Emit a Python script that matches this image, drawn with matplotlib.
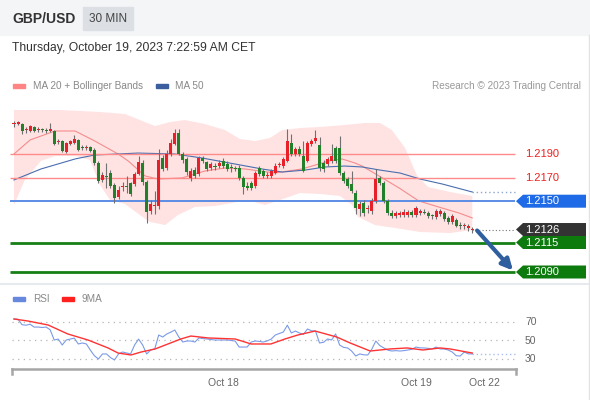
import matplotlib
matplotlib.use('Agg')
import matplotlib.pyplot as plt
from matplotlib.patches import Rectangle, Polygon
from matplotlib.lines import Line2D
import numpy as np

plt.rcParams['font.family'] = ['Liberation Sans', 'DejaVu Sans']

# --- data (30 min candles, GBP/USD) ---
open_ = [1.22154, 1.22154, 1.22154, 1.22103, 1.22095, 1.22129, 1.22103, 1.22112, 1.22103, 1.22095,
         1.22095, 1.22002, 1.22010, 1.21917, 1.21985, 1.21993, 1.22019, 1.21959, 1.21951, 1.21959,
         1.21934, 1.21824, 1.21680, 1.21714, 1.21739, 1.21637, 1.21536, 1.21620, 1.21629, 1.21654,
         1.21646, 1.21731, 1.21824, 1.21663, 1.21417, 1.21459, 1.21459, 1.21866, 1.21781, 1.21900,
         1.21985, 1.22078, 1.21900, 1.21858, 1.21697, 1.21764, 1.21731, 1.21866, 1.21832, 1.21781,
         1.21798, 1.21798, 1.21841, 1.21815, 1.21790, 1.21781, 1.21781, 1.21697, 1.21629, 1.21654,
         1.21629, 1.21781, 1.21756, 1.21714, 1.21714, 1.21739, 1.21807, 1.21798, 1.21841, 1.21993,
         1.21900, 1.21942, 1.21883, 1.21841, 1.21985, 1.22010, 1.21976, 1.21824, 1.21815, 1.21841,
         1.21951, 1.21951, 1.21739, 1.21688, 1.21646, 1.21569, 1.21434, 1.21485, 1.21434, 1.21417,
         1.21502, 1.21697, 1.21654, 1.21502, 1.21400, 1.21375, 1.21383, 1.21383, 1.21383, 1.21408,
         1.21383, 1.21400, 1.21408, 1.21400, 1.21375, 1.21366, 1.21391, 1.21400, 1.21358, 1.21324,
         1.21341, 1.21298, 1.21290, 1.21273, 1.21256]
high = [1.22180, 1.22180, 1.22163, 1.22129, 1.22146, 1.22137, 1.22129, 1.22120, 1.22120, 1.22163,
        1.22103, 1.22027, 1.22019, 1.22002, 1.22019, 1.22061, 1.22027, 1.21976, 1.21976, 1.21968,
        1.21951, 1.21841, 1.21747, 1.21824, 1.21764, 1.21654, 1.21629, 1.21663, 1.21714, 1.21663,
        1.21747, 1.21883, 1.21849, 1.21680, 1.21510, 1.21586, 1.21942, 1.21892, 1.21934, 1.22027,
        1.22112, 1.22112, 1.21917, 1.21875, 1.21781, 1.21790, 1.21883, 1.21883, 1.21841, 1.21832,
        1.21824, 1.21849, 1.21866, 1.21841, 1.21815, 1.21798, 1.21807, 1.21714, 1.21663, 1.21671,
        1.21756, 1.21798, 1.21773, 1.21747, 1.21773, 1.21824, 1.21832, 1.21875, 1.22112, 1.22069,
        1.21959, 1.21968, 1.22010, 1.22010, 1.22027, 1.22103, 1.22044, 1.21849, 1.21875, 1.21985,
        1.21968, 1.22053, 1.21756, 1.21705, 1.21756, 1.21595, 1.21502, 1.21510, 1.21468, 1.21527,
        1.21773, 1.21714, 1.21671, 1.21519, 1.21425, 1.21417, 1.21417, 1.21434, 1.21425, 1.21425,
        1.21459, 1.21434, 1.21434, 1.21417, 1.21391, 1.21434, 1.21434, 1.21417, 1.21375, 1.21391,
        1.21358, 1.21324, 1.21315, 1.21307, 1.21281]
low = [1.22129, 1.22146, 1.22069, 1.22078, 1.22086, 1.22086, 1.22086, 1.22086, 1.22078, 1.22086,
       1.21976, 1.21985, 1.21917, 1.21908, 1.21976, 1.21985, 1.21925, 1.21934, 1.21934, 1.21917,
       1.21807, 1.21654, 1.21663, 1.21612, 1.21612, 1.21485, 1.21519, 1.21586, 1.21569, 1.21544,
       1.21629, 1.21722, 1.21637, 1.21315, 1.21391, 1.21391, 1.21434, 1.21756, 1.21764, 1.21883,
       1.21976, 1.21892, 1.21824, 1.21722, 1.21671, 1.21697, 1.21714, 1.21824, 1.21756, 1.21764,
       1.21764, 1.21781, 1.21781, 1.21756, 1.21747, 1.21756, 1.21680, 1.21561, 1.21595, 1.21595,
       1.21612, 1.21714, 1.21697, 1.21697, 1.21697, 1.21731, 1.21790, 1.21781, 1.21832, 1.21883,
       1.21883, 1.21883, 1.21747, 1.21832, 1.21968, 1.21993, 1.21756, 1.21747, 1.21798, 1.21824,
       1.21824, 1.21722, 1.21654, 1.21612, 1.21569, 1.21391, 1.21375, 1.21375, 1.21400, 1.21391,
       1.21485, 1.21637, 1.21485, 1.21383, 1.21358, 1.21358, 1.21366, 1.21366, 1.21366, 1.21366,
       1.21366, 1.21383, 1.21391, 1.21358, 1.21349, 1.21349, 1.21375, 1.21332, 1.21307, 1.21307,
       1.21281, 1.21264, 1.21264, 1.21247, 1.21230]
close = [1.22163, 1.22167, 1.22095, 1.22112, 1.22137, 1.22095, 1.22112, 1.22103, 1.22095, 1.22112,
         1.21985, 1.22010, 1.21925, 1.21993, 1.22010, 1.22027, 1.21934, 1.21951, 1.21959, 1.21925,
         1.21824, 1.21671, 1.21722, 1.21705, 1.21629, 1.21527, 1.21595, 1.21629, 1.21620, 1.21561,
         1.21731, 1.21832, 1.21663, 1.21408, 1.21476, 1.21468, 1.21849, 1.21773, 1.21900, 1.21993,
         1.22078, 1.21900, 1.21849, 1.21747, 1.21756, 1.21714, 1.21866, 1.21841, 1.21773, 1.21815,
         1.21790, 1.21824, 1.21798, 1.21773, 1.21781, 1.21773, 1.21697, 1.21620, 1.21616, 1.21612,
         1.21739, 1.21731, 1.21714, 1.21722, 1.21756, 1.21798, 1.21815, 1.21858, 1.22010, 1.21900,
         1.21942, 1.21900, 1.21756, 1.21993, 1.22010, 1.22036, 1.21781, 1.21773, 1.21858, 1.21883,
         1.21841, 1.21739, 1.21671, 1.21629, 1.21586, 1.21442, 1.21476, 1.21400, 1.21442, 1.21502,
         1.21688, 1.21654, 1.21502, 1.21400, 1.21375, 1.21400, 1.21400, 1.21408, 1.21408, 1.21383,
         1.21442, 1.21417, 1.21404, 1.21375, 1.21371, 1.21417, 1.21417, 1.21349, 1.21324, 1.21375,
         1.21290, 1.21290, 1.21298, 1.21286, 1.21260]

# moving averages and bollinger bands (bar index, price)
ma20_x = [0, 4, 10.2, 15.2, 20.1, 25.9, 28.4, 32.6, 35.8, 41.8, 47.5, 52.5, 57.5, 64.9, 71.6,
          78.4, 81.6, 84.8, 86.6, 90.8, 95.8, 100.7, 106.5, 110.7, 114]
ma20_y = [1.21900, 1.22019, 1.22095, 1.22095, 1.22010, 1.21900, 1.21841, 1.21714, 1.21688, 1.21697,
          1.21756, 1.21781, 1.21773, 1.21739, 1.21773, 1.21841, 1.21858, 1.21824, 1.21798, 1.21714,
          1.21612, 1.21502, 1.21442, 1.21400, 1.21358]
ma50_x = [0, 6.7, 15.2, 20.1, 25.9, 30.8, 40, 46.8, 55, 61.7, 66.7, 72.4, 77.4, 82.3, 86.6,
          91, 96, 101, 106.5, 114]
ma50_y = [1.21680, 1.21773, 1.21858, 1.21892, 1.21900, 1.21908, 1.21900, 1.21866, 1.21815, 1.21773,
          1.21747, 1.21764, 1.21790, 1.21798, 1.21790, 1.21764, 1.21739, 1.21688, 1.21646, 1.21578]
bb_up_x = [0, 11.4, 21.4, 27.6, 31.3, 35.1, 38.8, 42.5, 47.5, 52.5, 56.2, 60, 63.7, 66.7, 71.1,
           76.1, 82.3, 87.3, 91, 94, 97.3, 100.2, 103, 108.5, 114]
bb_up_y = [1.22273, 1.22273, 1.22256, 1.22239, 1.22188, 1.22137, 1.22171, 1.22188, 1.22154, 1.22103,
           1.22027, 1.22010, 1.22036, 1.22103, 1.22120, 1.22129, 1.22146, 1.22163, 1.22163, 1.22103,
           1.21951, 1.21722, 1.21620, 1.21578, 1.21544]
bb_lo_x = [0, 2.7, 6.7, 10.2, 15.2, 18.9, 21.4, 23.9, 27.6, 31.3, 33.8, 37.6, 40.8, 45, 50,
           54.2, 58, 62.4, 66.2, 71.1, 76.1, 81.1, 84.1, 85.6, 89.8, 94.8, 101, 108.5, 114]
bb_lo_y = [1.21468, 1.21680, 1.21841, 1.21883, 1.21883, 1.21849, 1.21637, 1.21510, 1.21476, 1.21383,
           1.21324, 1.21298, 1.21383, 1.21451, 1.21459, 1.21485, 1.21510, 1.21468, 1.21510, 1.21569,
           1.21561, 1.21544, 1.21468, 1.21366, 1.21298, 1.21273, 1.21239, 1.21230, 1.21256]

resistances = [1.2190, 1.2170]
pivot = 1.2150
supports = [1.2115, 1.2090]

rsi = [72.7, 72.5, 66.5, 66, 67, 64, 64, 63.5, 64, 61,
       50, 51, 44.6, 50, 51, 52, 45.7, 46.8, 45.7, 39,
       33, 29.5, 34.9, 34.9, 31, 28.4, 34.9, 37, 36, 34.9,
       44.6, 51, 44.6, 34.9, 39.2, 40.3, 55.4, 53.2, 56.5, 58.5,
       60.8, 53.2, 47.8, 48.9, 48.9, 47.8, 52.2, 51.5, 51.1, 50.5,
       50, 50, 50, 50, 49.5, 48.9, 42.4, 42.4, 42.4, 47.8,
       48.9, 48.5, 47.8, 49, 51.1, 55.4, 57, 58.6, 66, 57.6,
       59.7, 57.6, 56, 61.9, 60, 59.7, 46.8, 47.5, 51.1, 50,
       56.5, 44.6, 42, 41.4, 38, 32.7, 34.9, 34, 33.8, 40,
       48.9, 44, 41.4, 39, 38.1, 38.5, 38.1, 38.5, 39.2, 40,
       42.4, 41.5, 41.4, 41, 40.3, 42.4, 40.3, 40.3, 39.2, 37,
       33, 32.7, 37, 35, 34.9]
ma9_x = [0, 3.5, 8.5, 13.4, 18.4, 23.4, 25.9, 29.1, 31.6, 35.1, 38.3, 41.5, 44, 48.3, 55,
         59, 63.9, 67.4, 70.6, 74.9, 80.3, 83.6, 88.6, 93.5, 97.8, 101.7, 106, 108.5, 114]
ma9_y = [72.7, 70.5, 66.2, 56.5, 50, 41.4, 35.9, 33.8, 37, 40.3, 45.7, 51.1, 54.3, 52.2, 51.1,
         45.7, 45.7, 51.1, 55.4, 59.7, 53.2, 46.8, 38.1, 40.3, 41.4, 39.2, 41.4, 40.3, 35.9]
rsi_levels = [70, 50, 30]

day_ticks = [52, 100, 117]
day_labels = ['Oct 18', 'Oct 19', 'Oct 22']

# --- layout helpers (pixels of a 590x400 image) ---
W, H = 590, 400
X0, BAR_PX = 14, 4.02
REF_P, REF_Y, PX_PER_UNIT = 1.2190, 154, 11800.0


def fx(px):
    return px / W


def fy(py):
    return 1 - py / H


def bx(px):
    return (px - X0) / BAR_PX


def price_at(py):
    return REF_P - (py - REF_Y) / PX_PER_UNIT


def rsi_at(py):
    return 50 + (340 - py) / 0.925


fig = plt.figure(figsize=(W / 100, H / 100), dpi=100)

# header band
fig.patches.append(Rectangle((0, fy(35)), 1, 35 / H, transform=fig.transFigure,
                             color='#f4f5f7', zorder=0))
fig.patches.append(Rectangle((fx(83), fy(30)), fx(50), 23 / H, transform=fig.transFigure,
                             color='#dcdfe4', zorder=1))
fig.text(fx(12), fy(19), 'GBP/USD', fontsize=10, fontweight='bold', color='#333333', va='center')
fig.text(fx(108), fy(19), '30 MIN', fontsize=8.5, color='#444444', va='center', ha='center')
fig.text(fx(12), fy(48.5), 'Thursday, October 19, 2023 7:22:59 AM CET', fontsize=8.7,
         color='#333333', va='center')

# legend
fig.patches.append(Rectangle((fx(13), fy(88)), fx(12), 4 / H, transform=fig.transFigure, color='#ff8585'))
fig.text(fx(33), fy(86), 'MA 20 + Bollinger Bands', fontsize=7.2, color='#888888', va='center')
fig.patches.append(Rectangle((fx(156), fy(88)), fx(12), 4 / H, transform=fig.transFigure, color='#3b5f9e'))
fig.text(fx(175), fy(86), 'MA 50', fontsize=7.2, color='#888888', va='center')
fig.text(fx(581), fy(86), 'Research \u00a9 2023 Trading Central', fontsize=7.2, color='#999999',
         va='center', ha='right')

# borders
fig.add_artist(Line2D([fx(588.5)] * 2, [fy(35), fy(400)], transform=fig.transFigure, color='#e3e3e3', lw=1))
fig.add_artist(Line2D([0, fx(588)], [fy(284)] * 2, transform=fig.transFigure, color='#e6e9ee', lw=1.5))

# --- price panel ---
ax = fig.add_axes([0, fy(284), 1, (284 - 100) / H])
ax.set_xlim(bx(0), bx(W))
ax.set_ylim(price_at(284), price_at(100))
ax.axis('off')

band = Polygon(list(zip(bb_up_x, bb_up_y)) + list(zip(bb_lo_x, bb_lo_y))[::-1],
               closed=True, facecolor='#ffe3e3', edgecolor='none', zorder=1)
ax.add_patch(band)
ax.plot(ma20_x, ma20_y, color='#f58c8c', lw=0.8, zorder=2)
ax.plot(ma50_x, ma50_y, color='#4a6eae', lw=0.8, zorder=2)
ax.plot([ma50_x[-1], bx(515)], [ma50_y[-1]] * 2, color='#8ea5cf', lw=1, ls=(0, (1, 2)), zorder=2)

left, right = bx(10), bx(515)
for lv in resistances:
    ax.hlines(lv, left, right, color='#ff8a8a', lw=1, zorder=2)
    ax.text(bx(525), lv, f'{lv:.4f}', fontsize=8, color='#ee2020', va='center', ha='left')
ax.hlines(pivot, left, right, color='#5b8de6', lw=1.4, zorder=2)
for lv in supports:
    ax.hlines(lv, left, right, color='#168016', lw=2, zorder=2)

# candles
o = np.array(open_)
c = np.array(close)
idx = np.arange(len(c))
ax.vlines(idx, low, high, color='#707070', lw=0.8, zorder=3)
bottoms = np.minimum(o, c)
heights = np.maximum(np.abs(c - o), 1.0 / PX_PER_UNIT)
colors = np.where(c >= o, '#e8202a', '#23802a')
ax.bar(idx, heights, bottom=bottoms, width=0.75, color=colors, lw=0, zorder=4)
ax.plot([idx[-1], bx(515)], [c[-1]] * 2, color='#777777', lw=0.8, ls=(0, (1, 2)), zorder=2)

# forecast arrow towards the second support
ax.annotate('', xy=(bx(513), supports[1] + 1.5 / PX_PER_UNIT), xytext=(idx[-1] + 1.2, c[-1] - 1 / PX_PER_UNIT),
            arrowprops=dict(arrowstyle='-|>', color='#2f5f9f', lw=3, mutation_scale=16,
                            shrinkA=0, shrinkB=0), zorder=5)

# right hand tags
half = 6.5 / PX_PER_UNIT


def tag(level, color, text):
    pts = [(bx(516), level), (bx(523), level + half), (bx(586), level + half),
           (bx(586), level - half), (bx(523), level - half)]
    ax.add_patch(Polygon(pts, closed=True, facecolor=color, edgecolor='none', zorder=6, clip_on=False))
    ax.text(bx(525), level, text, fontsize=8, color='white', va='center', ha='left', zorder=7)


tag(pivot, '#1f6ae6', f'{pivot:.4f}')
tag(c[-1], '#333333', f'{c[-1]:.4f}')
tag(supports[0], '#0c7a0c', f'{supports[0]:.4f}')
tag(supports[1], '#0c7a0c', f'{supports[1]:.4f}')

# --- RSI panel ---
ax2 = fig.add_axes([0, fy(398), 1, (398 - 285) / H])
ax2.set_xlim(bx(0), bx(W))
ax2.set_ylim(rsi_at(398), rsi_at(285))
ax2.axis('off')

ax2.hlines(rsi_levels, bx(12), bx(515), colors='#b5b5b5', lw=0.9, linestyles=(0, (1, 3.5)))
for lv in rsi_levels:
    ax2.text(bx(525), lv - 0.8, str(lv), fontsize=7.5, color='#666666', va='center', ha='left')
ax2.plot(idx, rsi, color='#7b9ae6', lw=0.8)
ax2.plot([idx[-1], bx(515)], [rsi[-1]] * 2, color='#a9bdf0', lw=1, ls=(0, (1, 2)))
ax2.plot(ma9_x, ma9_y, color='#ff3333', lw=1)

fig.patches.append(Rectangle((fx(13), fy(301)), fx(12), 4 / H, transform=fig.transFigure, color='#6688dd'))
fig.text(fx(33), fy(299), 'RSI', fontsize=7.2, color='#888888', va='center')
fig.patches.append(Rectangle((fx(62), fy(301)), fx(12), 4 / H, transform=fig.transFigure, color='#ff2020'))
fig.text(fx(82), fy(299), '9MA', fontsize=7.2, color='#888888', va='center')

# time axis
fig.add_artist(Line2D([fx(12), fx(516)], [fy(369)] * 2, transform=fig.transFigure, color='#a6a6a6', lw=1.8))
for xp in (12, 516):
    fig.add_artist(Line2D([fx(xp)] * 2, [fy(369), fy(374)], transform=fig.transFigure, color='#a6a6a6', lw=1.8))
for t, lab in zip(day_ticks, day_labels):
    ax2.text(t, rsi_at(382.5), lab, fontsize=7.5, color='#666666', ha='center', va='center')

fig.savefig('out.png', dpi=100)
